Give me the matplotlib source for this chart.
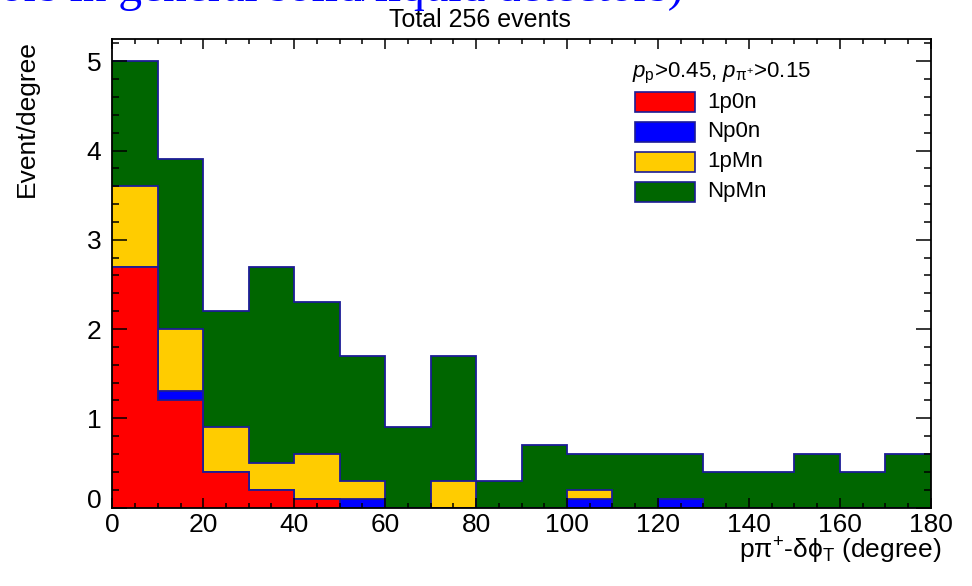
import numpy as np
import matplotlib
matplotlib.use("Agg")
import matplotlib.pyplot as plt
from matplotlib.patches import Rectangle

plt.rcParams['font.family'] = ['Liberation Sans', 'DejaVu Sans']
plt.rcParams['mathtext.fontset'] = 'custom'
plt.rcParams['mathtext.rm'] = 'Liberation Sans'
plt.rcParams['mathtext.it'] = 'Liberation Sans:italic'
plt.rcParams['mathtext.bf'] = 'Liberation Sans:bold'
plt.rcParams['mathtext.sf'] = 'Liberation Sans'

# 10-degree bins of the transverse boost angle, in events/degree
bin_edges = np.arange(0, 190, 10)
samples = ["1p0n", "Np0n", "1pMn", "NpMn"]
rate_1p0n = [2.7, 1.2, 0.4, 0.2, 0.1, 0.0, 0.0, 0.0, 0.0,
             0.0, 0.0, 0.0, 0.0, 0.0, 0.0, 0.0, 0.0, 0.0]
rate_Np0n = [0.0, 0.1, 0.0, 0.0, 0.0, 0.1, 0.0, 0.0, 0.0,
             0.0, 0.1, 0.0, 0.1, 0.0, 0.0, 0.0, 0.0, 0.0]
rate_1pMn = [0.9, 0.7, 0.5, 0.3, 0.5, 0.2, 0.0, 0.3, 0.0,
             0.0, 0.1, 0.0, 0.0, 0.0, 0.0, 0.0, 0.0, 0.0]
rate_NpMn = [1.4, 1.9, 1.3, 2.2, 1.7, 1.4, 0.9, 1.4, 0.3,
             0.7, 0.4, 0.6, 0.5, 0.4, 0.4, 0.6, 0.4, 0.6]
fill_colors = ["#ff0000", "#0000ff", "#ffcc00", "#006600"]
x_ticks = [0, 20, 40, 60, 80, 100, 120, 140, 160, 180]
y_ticks = [0, 1, 2, 3, 4, 5]

W, H = 972, 586
fig = plt.figure(figsize=(W / 100, H / 100), dpi=100)


def fx(px):
    return px / W


def fy(py):
    return 1 - py / H


x0, x1, y0, y1 = 112.3, 930.7, 39.0, 507.5
ax = fig.add_axes([fx(x0), fy(y1), fx(x1) - fx(x0), (y1 - y0) / H])

layers = [rate_1p0n, rate_Np0n, rate_1pMn, rate_NpMn]
cumulative = np.cumsum(np.array(layers), axis=0)
line_col = "#1c1c96"
width_deg = bin_edges[1] - bin_edges[0]
n_events = int(round(cumulative[-1].sum() * width_deg))

# stacked histogram: draw the outermost sum first, then the inner sums on top
for k in range(len(layers) - 1, -1, -1):
    ax.stairs(cumulative[k], bin_edges, fill=True, color=fill_colors[k],
              linewidth=0, zorder=1 + (3 - k) * 0.01)
    ax.stairs(cumulative[k], bin_edges, baseline=None, color=line_col,
              linewidth=1.3, zorder=1.005 + (3 - k) * 0.01)

ax.set_xlim(0, 180)
ax.set_ylim(0, 5.25)
ax.set_xticks(x_ticks)
ax.set_yticks(y_ticks)
ax.set_xticks(np.arange(0, 181, 5), minor=True)
ax.set_yticks(np.arange(0, 5.25, 0.2), minor=True)
ax.tick_params(which='both', direction='in', top=True, right=True,
               labelsize=19, width=1.1, color='black')
ax.xaxis.set_tick_params(which='major', length=7.2, pad=4)
ax.xaxis.set_tick_params(which='minor', length=3.6)
ax.yaxis.set_tick_params(which='major', length=10.8, pad=8)
ax.yaxis.set_tick_params(which='minor', length=5.2)
for s in ax.spines.values():
    s.set_linewidth(1.3)
    s.set_color('black')
ax.yaxis.get_major_ticks()[0].label1.set_va('baseline')

# axis titles
fig.text(fx(27), fy(40), "Event/degree", rotation=90, ha='center', va='top',
         fontsize=19)
fig.text(fx(942), fy(559), r"p$\mathrm{\pi}^{+}$-$\mathrm{\delta\phi}_{\mathrm{T}}$ (degree)",
         ha='right', va='baseline', fontsize=19)
fig.text(fx(480), fy(26.7), f"Total {n_events} events", ha='center',
         va='baseline', fontsize=18)

# slide caption running above the pad
fig.text(fx(683), fy(1), "ors in general solid/liquid detectors)",
         ha='right', va='baseline', fontsize=34, color='#0000ff',
         family='Liberation Serif')

# legend
fig.text(fx(632), fy(77), r"$p_{\mathrm{p}}$>0.45, $p_{\mathrm{\pi}^{+}}$>0.15",
         ha='left', va='baseline', fontsize=16)
row_tops = [92.3, 121.7, 151.7, 181.7]
for name, col, top in zip(samples, fill_colors, row_tops):
    fig.add_artist(Rectangle((fx(635), fy(top + 20)), fx(60), 20 / H,
                             transform=fig.transFigure, facecolor=col,
                             edgecolor=line_col, linewidth=1.2))
    fig.text(fx(707), fy(top + 10), name, ha='left', va='center', fontsize=16)

fig.savefig("out.png", dpi=100)
